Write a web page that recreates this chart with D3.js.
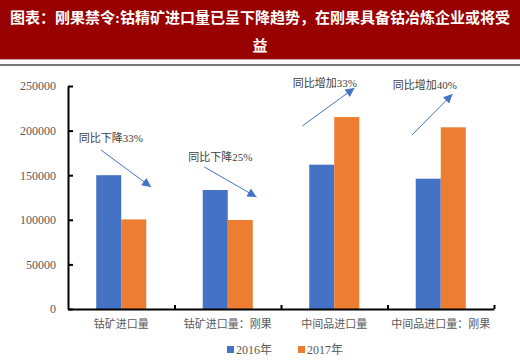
<!DOCTYPE html>
<html>
<head>
<meta charset="utf-8">
<script src="https://cdn.jsdelivr.net/npm/d3@7"></script>
<style>
  body { margin: 0; background: #fff; }
  svg { display: block; }
  text { font-family: "Liberation Serif", "Noto Sans CJK SC", serif; }
</style>
</head>
<body>
<div id="chart"></div>
<script>
var titleLines = ["图表：刚果禁令:钴精矿进口量已呈下降趋势，在刚果具备钴冶炼企业或将受", "益"];
var categories = ["钴矿进口量", "钴矿进口量：刚果", "中间品进口量", "中间品进口量：刚果"];
var seriesNames = ["2016年", "2017年"];
var values2016 = [150000, 133400, 161800, 146100];
var values2017 = [100400, 99800, 215200, 203700];
var yTicks = [0, 50000, 100000, 150000, 200000, 250000];
// annotations: text anchor and arrow ends, in category-index / value units
var noteText = ["同比下降33%", "同比下降25%", "同比增加33%", "同比增加40%"];
var noteAt = [[0.10, 192000], [1.13, 170400], [2.11, 253400], [3.05, 251100]];
var arrowFrom = [[0.31, 178200], [1.28, 159200], [2.20, 205200], [3.23, 195100]];
var arrowTo = [[0.78, 136800], [1.77, 125600], [2.69, 247800], [3.61, 241000]];

var colors = ["#4472C4", "#ED7D31"];
var width = 520, height = 364;

var svg = d3.select("#chart").append("svg").attr("width", width).attr("height", height);

// title bar
svg.append("rect").attr("x", 0).attr("y", 0).attr("width", width).attr("height", 59).attr("fill", "#990000");
svg.append("line").attr("x1", 0).attr("x2", width).attr("y1", 59.5).attr("y2", 59.5).attr("stroke", "#d9a0a0");
svg.append("line").attr("x1", 0).attr("x2", width).attr("y1", 65).attr("y2", 65).attr("stroke", "#777").attr("stroke-width", 2);
svg.selectAll(".title").data(titleLines).enter().append("text")
    .attr("x", width / 2).attr("y", function(d, i) { return 23 + i * 28; })
    .attr("text-anchor", "middle").attr("fill", "#fff")
    .style("font-size", "15px").style("font-weight", "bold")
    .text(function(d) { return d; });

var x0 = d3.scaleBand().domain(categories).range([68, 494]).paddingInner(0.53).paddingOuter(0.265);
var x1 = d3.scaleBand().domain(seriesNames).range([0, x0.bandwidth()]);
var xi = d3.scaleLinear().domain([0, 4]).range([68, 494]);
var y = d3.scaleLinear().domain([0, 250000]).range([309, 86]);

// bars
var rows = categories.map(function(c, i) { return {cat: c, vals: [values2016[i], values2017[i]]}; });
var g = svg.selectAll(".grp").data(rows).enter().append("g")
    .attr("transform", function(d) { return "translate(" + x0(d.cat) + ",0)"; });
g.selectAll("rect").data(function(d) { return d.vals.map(function(v, j) { return {s: seriesNames[j], v: v, j: j}; }); })
  .enter().append("rect")
    .attr("x", function(d) { return x1(d.s); })
    .attr("y", function(d) { return y(d.v); })
    .attr("width", x1.bandwidth())
    .attr("height", function(d) { return 309 - y(d.v); })
    .attr("fill", function(d) { return colors[d.j]; });

// y axis
var yAxis = svg.append("g").attr("transform", "translate(68,0)")
    .call(d3.axisLeft(y).tickValues(yTicks).tickSize(-5).tickSizeOuter(0).tickPadding(12).tickFormat(d3.format("d")));
yAxis.select(".domain").attr("stroke", "#000").attr("stroke-width", 2);
yAxis.selectAll(".tick line").attr("stroke", "#000").attr("stroke-width", 2);
yAxis.selectAll("text").attr("fill", "#595959").style("font-size", "12px")
    .style("font-family", "'Liberation Serif', serif");

// x axis
var xAxis = svg.append("g").attr("transform", "translate(0,309)")
    .call(d3.axisBottom(xi).tickValues([1, 2, 3, 4]).tickSize(-4).tickSizeOuter(0).tickFormat(""));
xAxis.select(".domain").attr("stroke", "#000").attr("stroke-width", 2);
xAxis.selectAll(".tick line").attr("stroke", "#000").attr("stroke-width", 2);

svg.selectAll(".cat").data(categories).enter().append("text")
    .attr("x", function(d) { return x0(d) + x0.bandwidth() / 2; })
    .attr("y", 328).attr("text-anchor", "middle")
    .attr("fill", "#595959").style("font-size", "11px")
    .text(function(d) { return d; });

// annotations
svg.append("defs").append("marker")
    .attr("id", "ah").attr("viewBox", "0 0 10 10").attr("refX", 10).attr("refY", 5)
    .attr("markerWidth", 11).attr("markerHeight", 9).attr("markerUnits", "userSpaceOnUse")
    .attr("orient", "auto")
  .append("path").attr("d", "M0,0L10,5L0,10Z").attr("fill", "#4472C4");

svg.selectAll(".arrow").data(arrowFrom).enter().append("line")
    .attr("x1", function(d) { return xi(d[0]); })
    .attr("y1", function(d) { return y(d[1]); })
    .attr("x2", function(d, i) { return xi(arrowTo[i][0]); })
    .attr("y2", function(d, i) { return y(arrowTo[i][1]); })
    .attr("stroke", "#4472C4").attr("stroke-width", 1)
    .attr("marker-end", "url(#ah)");

svg.selectAll(".note").data(noteText).enter().append("text")
    .attr("x", function(d, i) { return xi(noteAt[i][0]); })
    .attr("y", function(d, i) { return y(noteAt[i][1]) + 4; })
    .attr("fill", "#404040").style("font-size", "11px")
    .text(function(d) { return d; });

// legend
var legX = [227, 298];
var leg = svg.selectAll(".leg").data(seriesNames).enter().append("g")
    .attr("transform", function(d, i) { return "translate(" + legX[i] + ",346)"; });
leg.append("rect").attr("width", 7).attr("height", 7).attr("fill", function(d, i) { return colors[i]; });
leg.append("text").attr("x", 9).attr("y", 8).attr("fill", "#595959").style("font-size", "12px")
    .text(function(d) { return d; });
</script>
</body>
</html>
